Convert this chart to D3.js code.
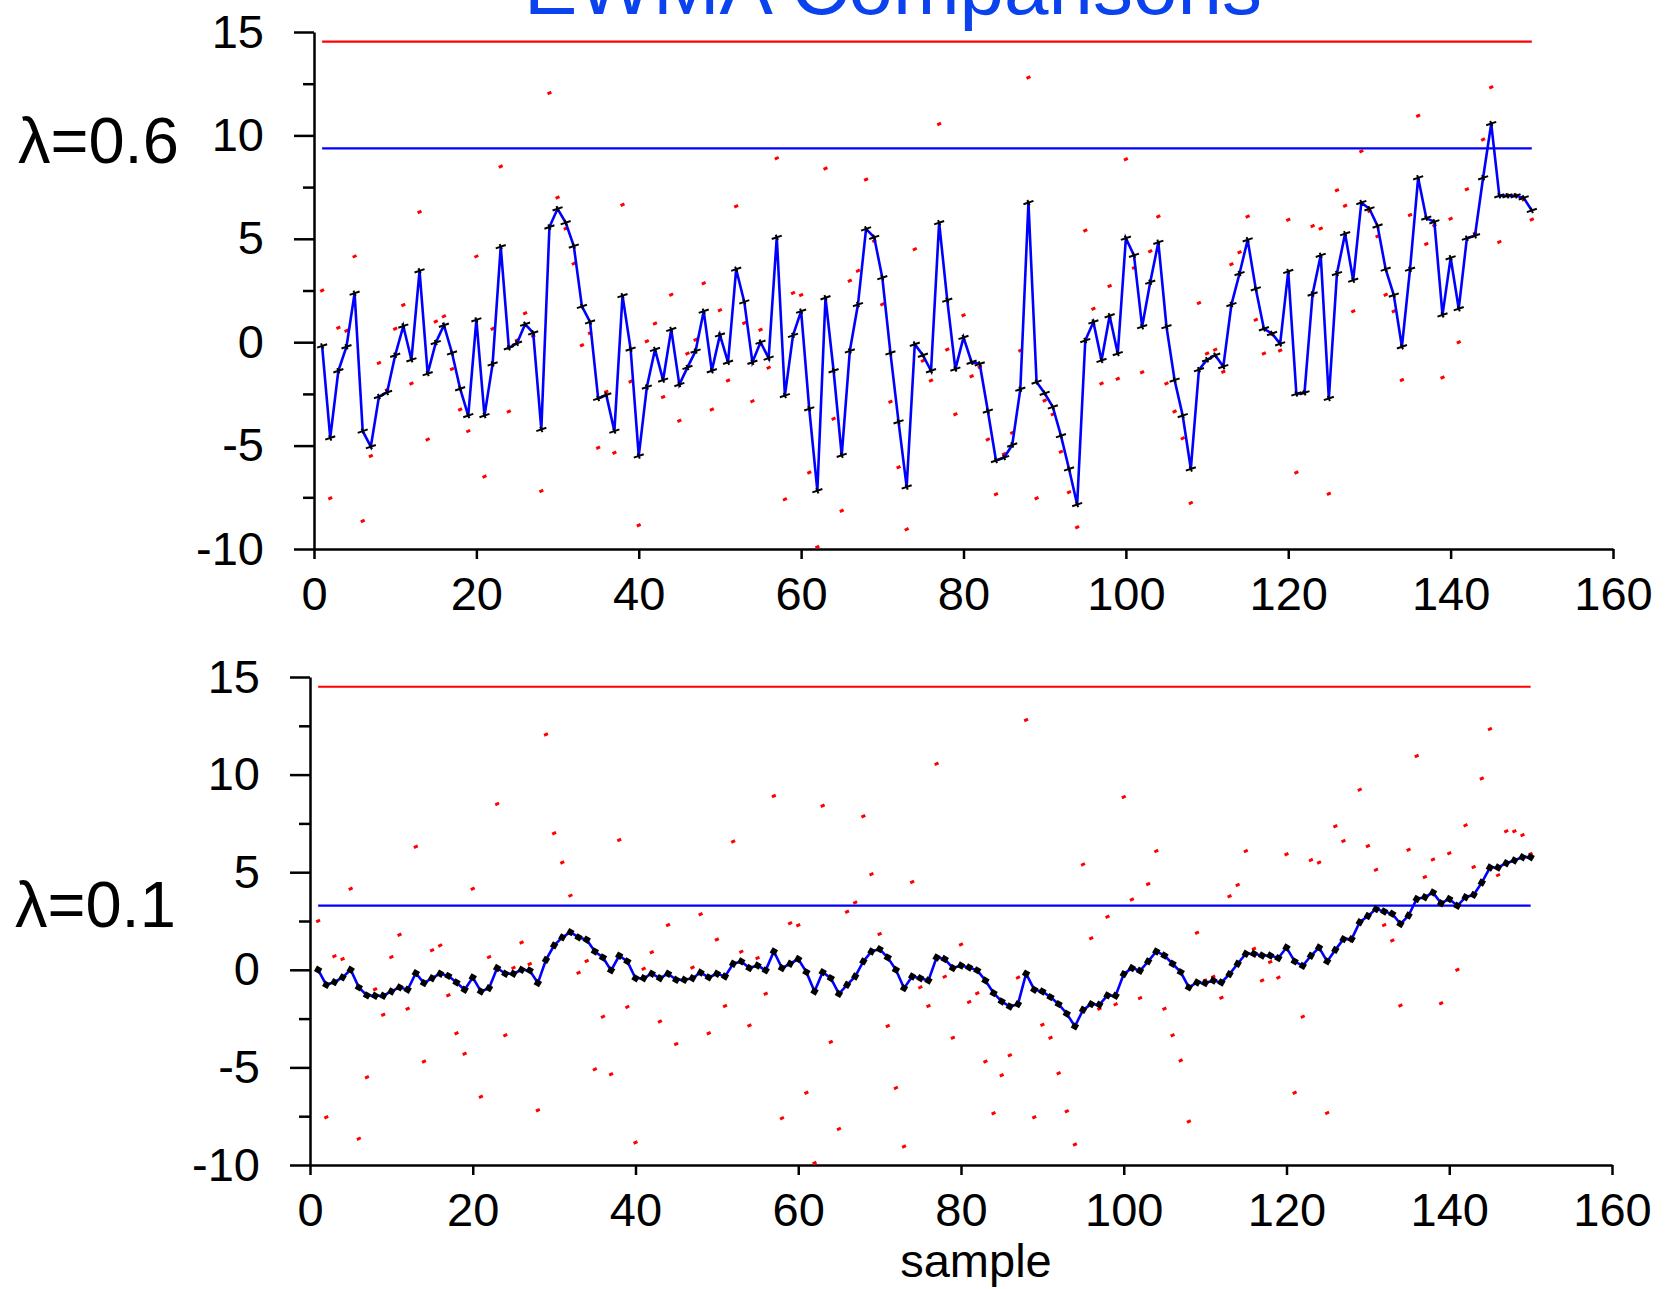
<!DOCTYPE html>
<html lang="en">
<head>
    <meta charset="UTF-8">
    <title>EWMA Comparisons</title>
    <script src="https://d3js.org/d3.v7.min.js"></script>
    <style>
        body { margin: 0; background: #ffffff; }
        svg { display: block; font-family: 'Liberation Sans', Arial, sans-serif; }
        .axis path, .axis line { stroke: #000; stroke-width: 2.5px; }
        .axis text { font-size: 47px; fill: #000; font-family: 'Liberation Sans', Arial, sans-serif; }
    </style>
</head>
<body>
<div id="chart"></div>
<script>
    // raw observations (red dots), same series in both panels
    const rawValues = [
        2.5, -7.55, 0.7, 0.55, 4.15, -8.65, -5.5, -1.0, -2.3, 0.65,
        1.8, -2.0, 6.3, -4.7, 1.0, 1.25, -1.3, -3.25, -4.3, 4.15,
        -6.5, 0.65, 8.5, -3.35, 0.1, 1.4, 0.3, -7.2, 12.05, 7.0,
        5.5, 3.8, -0.15, 0.45, -5.1, -2.4, -5.35, 6.65, -1.9, -8.85,
        0.05, 0.9, -2.65, 2.3, -3.8, -0.55, 0.12, 2.85, -3.25, 1.55,
        -1.85, 6.57, 0.93, -2.85, 0.6, -1.23, 8.9, -7.6, 2.38, 2.28,
        -6.3, -9.9, 8.4, -3.7, -8.15, 2.97, 3.45, 7.87, 4.9, 1.83,
        -2.88, -6.05, -9.05, 4.5, -0.9, -1.85, 10.55, -0.35, -3.48, 1.3,
        -1.65, -1.2, -4.7, -7.35, -5.4, -4.38, -0.4, 12.8, -7.55, -2.82,
        -3.48, -5.3, -7.25, -8.95, 5.4, 1.62, -2.0, 2.72, -1.77, 8.85,
        3.6, -1.45, 4.4, 6.08, -2.0, -3.35, -4.65, -7.77, 1.9, -0.55,
        -0.36, -1.43, 3.77, 4.35, 6.08, 1.08, -0.55, 0.4, -0.4, 5.92,
        -6.3, -2.4, 5.62, 5.5, -7.33, 7.35, 6.6, 1.5, 9.23, 6.34,
        5.12, 2.29, 1.5, -1.83, 6.15, 10.95, 4.75, 5.65, -1.71, 5.97,
        0.0, 7.4, 5.27, 9.8, 12.33, 4.85, 7.1, 7.1, 6.9, 5.93
    ];

    // EWMA with lambda = 0.6 (top panel)
    const ewmaHigh = [
        -0.18, -4.63, -1.38, -0.22, 2.37, -4.3, -5.05, -2.63, -2.43, -0.63,
        0.78, -0.85, 3.45, -1.52, -0.02, 0.82, -0.52, -2.25, -3.55, 1.08,
        -3.55, -1.05, 4.62, -0.27, -0.05, 0.87, 0.45, -4.22, 5.57, 6.45,
        5.78, 4.65, 1.73, 0.98, -2.72, -2.55, -4.3, 2.25, -0.33, -5.5,
        -2.17, -0.35, -1.83, 0.62, -2.05, -1.22, -0.43, 1.5, -1.38, 0.35,
        -0.97, 3.53, 1.95, -0.97, 0.0, -0.77, 5.07, -2.58, 0.33, 1.5,
        -3.22, -7.18, 2.15, -1.38, -5.47, -0.42, 1.82, 5.48, 5.07, 3.12,
        -0.52, -3.85, -7.0, -0.1, -0.63, -1.38, 5.78, 2.03, -1.3, 0.23,
        -0.97, -1.05, -3.33, -5.72, -5.58, -4.97, -2.27, 6.75, -1.93, -2.47,
        -3.13, -4.52, -6.13, -7.85, 0.08, 0.98, -0.88, 1.28, -0.55, 5.03,
        4.2, 0.75, 2.9, 4.83, 0.75, -1.83, -3.55, -6.13, -1.33, -0.85,
        -0.63, -1.18, 1.82, 3.32, 4.95, 2.58, 0.65, 0.42, -0.08, 3.42,
        -2.5, -2.45, 2.33, 4.2, -2.72, 3.32, 5.25, 3.0, 6.75, 6.45,
        5.62, 3.53, 2.28, -0.22, 3.53, 7.95, 6.0, 5.82, 1.32, 4.08,
        1.62, 5.03, 5.15, 7.95, 10.57, 7.08, 7.08, 7.08, 6.98, 6.37
    ];

    // EWMA with lambda = 0.1 (bottom panel)
    const ewmaLow = [
        0.0, -0.77, -0.63, -0.39, 0.0, -0.9, -1.31, -1.33, -1.33, -1.11,
        -0.9, -1.02, -0.17, -0.68, -0.43, -0.2, -0.31, -0.65, -1.02, -0.39,
        -1.11, -0.94, 0.09, -0.2, -0.2, 0.0, -0.03, -0.68, 0.51, 1.25,
        1.66, 1.93, 1.66, 1.54, 0.94, 0.63, -0.03, 0.72, 0.43, -0.43,
        -0.43, -0.2, -0.43, -0.2, -0.51, -0.51, -0.43, -0.14, -0.39, -0.2,
        -0.34, 0.31, 0.43, 0.09, 0.22, -0.03, 0.94, 0.09, 0.31, 0.55,
        -0.12, -1.11, -0.12, -0.43, -1.23, -0.77, -0.34, 0.43, 0.94, 1.06,
        0.63, 0.0, -0.94, -0.34, -0.43, -0.55, 0.63, 0.55, 0.09, 0.22,
        0.12, -0.03, -0.55, -1.19, -1.62, -1.88, -1.76, -0.2, -1.02, -1.11,
        -1.4, -1.76, -2.25, -2.9, -2.05, -1.76, -1.79, -1.31, -1.33, -0.22,
        0.09, -0.05, 0.43, 0.94, 0.73, 0.31, -0.12, -0.9, -0.65, -0.68,
        -0.55, -0.65, -0.22, 0.31, 0.82, 0.82, 0.73, 0.73, 0.6, 1.14,
        0.43, 0.2, 0.72, 1.14, 0.43, 1.02, 1.57, 1.57, 2.44, 2.76,
        3.11, 2.99, 2.87, 2.35, 2.78, 3.63, 3.72, 3.96, 3.41, 3.63,
        3.28, 3.72, 3.84, 4.47, 5.24, 5.24, 5.46, 5.6, 5.77, 5.77
    ];

    // control limits: [red, blue]
    const limitsHigh = [14.53, 9.37];
    const limitsLow = [14.5, 3.29];

    const xTicks = [0, 20, 40, 60, 80, 100, 120, 140, 160];
    const yTicks = [-10, -5, 0, 5, 10, 15];
    const yMinorTicks = [-7.5, -2.5, 2.5, 7.5, 12.5];
    const panelLabels = ["\u03bb=0.6", "\u03bb=0.1"];

    const samples = rawValues.map((v, i) => i + 1);

    const svg = d3.select("#chart").append("svg")
        .attr("width", 1680)
        .attr("height", 1289);

    svg.append("rect").attr("width", 1680).attr("height", 1289).attr("fill", "#fff");

    // title sits partly above the top edge, as in the original
    svg.append("text")
        .attr("x", 893)
        .attr("y", 14)
        .attr("text-anchor", "middle")
        .attr("font-size", 80)
        .attr("fill", "#0a42ee")
        .text("EWMA Comparisons");

    function drawPanel(cfg) {
        const x = d3.scaleLinear().domain([0, 160]).range(cfg.xRange);
        const y = d3.scaleLinear().domain([-10, 15]).range(cfg.yRange);
        const g = svg.append("g");

        // y axis: major + minor ticks
        g.append("g")
            .attr("class", "axis")
            .attr("transform", `translate(${cfg.xRange[0]},0)`)
            .call(d3.axisLeft(y).tickValues(yTicks).tickSize(20).tickSizeOuter(0).tickPadding(30).tickFormat(d => String(d)));
        g.append("g")
            .attr("class", "axis")
            .attr("transform", `translate(${cfg.xRange[0]},0)`)
            .call(d3.axisLeft(y).tickValues(yMinorTicks).tickSize(11).tickSizeOuter(0).tickFormat(""))
            .select(".domain").remove();

        // x axis
        g.append("g")
            .attr("class", "axis")
            .attr("transform", `translate(0,${cfg.yRange[0]})`)
            .call(d3.axisBottom(x).tickValues(xTicks).tickSize(10).tickSizeOuter(0).tickPadding(18).tickFormat(d => String(d)));

        // control limit lines
        const limitColors = ["#ff0000", "#0000ff"];
        g.selectAll(".limit").data(cfg.limits).enter()
            .append("line")
            .attr("x1", x(samples[0]))
            .attr("x2", x(samples[samples.length - 1]))
            .attr("y1", d => y(d))
            .attr("y2", d => y(d))
            .attr("stroke", (d, i) => limitColors[i])
            .attr("stroke-width", 2.2);

        // raw data dots
        g.selectAll(".raw").data(rawValues).enter()
            .append("rect")
            .attr("x", -2.1).attr("y", -1.5)
            .attr("width", 4.2).attr("height", 3)
            .attr("fill", "#ff0000")
            .attr("transform", (d, i) => `translate(${x(samples[i])},${y(d)}) rotate(-25)`);

        // EWMA line
        const line = d3.line().x((d, i) => x(samples[i])).y(d => y(d));
        g.append("path")
            .datum(cfg.ewma)
            .attr("d", line)
            .attr("fill", "none")
            .attr("stroke", "#0000ff")
            .attr("stroke-width", 2.6);

        // markers
        if (cfg.marker === "dash") {
            g.selectAll(".mk").data(cfg.ewma).enter()
                .append("path")
                .attr("d", "M-5,1.7L5,-1.7M-1.1,-2.6L1.1,2.6")
                .attr("stroke", "#000")
                .attr("stroke-width", 2)
                .attr("fill", "none")
                .attr("transform", (d, i) => `translate(${x(samples[i])},${y(d)})`);
        } else {
            const sym = d3.symbol().type(d3.symbolSquare).size(38);
            g.selectAll(".mk").data(cfg.ewma).enter()
                .append("path")
                .attr("d", sym)
                .attr("fill", "#000")
                .attr("transform", (d, i) => `translate(${x(samples[i])},${y(d)}) rotate(30)`);
        }

        // panel label
        svg.append("text")
            .attr("x", cfg.labelPos[0])
            .attr("y", cfg.labelPos[1])
            .attr("font-size", 65)
            .attr("fill", "#000")
            .text(cfg.label);
    }

    drawPanel({
        xRange: [314, 1613],
        yRange: [549, 32],
        ewma: ewmaHigh,
        limits: limitsHigh,
        marker: "dash",
        label: panelLabels[0],
        labelPos: [18, 163]
    });

    drawPanel({
        xRange: [310, 1612],
        yRange: [1165, 677],
        ewma: ewmaLow,
        limits: limitsLow,
        marker: "diamond",
        label: panelLabels[1],
        labelPos: [15, 927]
    });

    svg.append("text")
        .attr("x", 976)
        .attr("y", 1277)
        .attr("text-anchor", "middle")
        .attr("font-size", 47)
        .attr("fill", "#000")
        .text("sample");
</script>
</body>
</html>
